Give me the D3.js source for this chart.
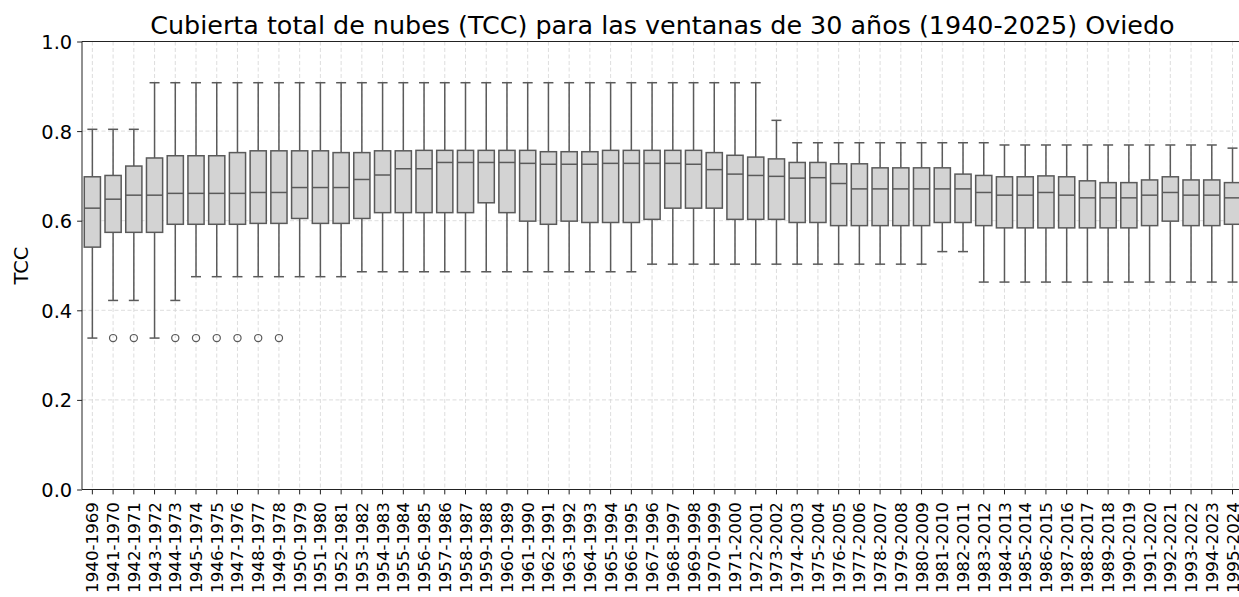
<!DOCTYPE html>
<html>
<head>
<meta charset="utf-8">
<script src="https://cdn.jsdelivr.net/npm/d3@7"></script>
<style>
  html, body { margin: 0; padding: 0; background: #fff; }
  svg { display: block; font-family: "DejaVu Sans", sans-serif; }
</style>
</head>
<body>
<svg id="chart" width="1239" height="597"></svg>
<script>
const categories = [
  "1940-1969","1941-1970","1942-1971","1943-1972","1944-1973","1945-1974","1946-1975","1947-1976",
  "1948-1977","1949-1978","1950-1979","1951-1980","1952-1981","1953-1982","1954-1983","1955-1984",
  "1956-1985","1957-1986","1958-1987","1959-1988","1960-1989","1961-1990","1962-1991","1963-1992",
  "1964-1993","1965-1994","1966-1995","1967-1996","1968-1997","1969-1998","1970-1999","1971-2000",
  "1972-2001","1973-2002","1974-2003","1975-2004","1976-2005","1977-2006","1978-2007","1979-2008",
  "1980-2009","1981-2010","1982-2011","1983-2012","1984-2013","1985-2014","1986-2015","1987-2016",
  "1988-2017","1989-2018","1990-2019","1991-2020","1992-2021","1993-2022","1994-2023","1995-2024"
];

const whiskerHigh = [
  0.804,0.804,0.804,0.908,0.908,0.908,0.908,0.908,
  0.908,0.908,0.908,0.908,0.908,0.908,0.908,0.908,
  0.908,0.908,0.908,0.908,0.908,0.908,0.908,0.908,
  0.908,0.908,0.908,0.908,0.908,0.908,0.908,0.908,
  0.908,0.824,0.774,0.774,0.774,0.774,0.774,0.774,
  0.774,0.774,0.774,0.774,0.769,0.769,0.769,0.769,
  0.769,0.769,0.769,0.769,0.769,0.769,0.769,0.762
];

const q3Values = [
  0.698,0.701,0.722,0.740,0.745,0.745,0.745,0.752,
  0.756,0.756,0.756,0.756,0.752,0.752,0.756,0.756,
  0.757,0.757,0.757,0.757,0.757,0.757,0.754,0.754,
  0.754,0.757,0.757,0.757,0.757,0.757,0.752,0.746,
  0.742,0.738,0.730,0.730,0.727,0.727,0.718,0.718,
  0.718,0.718,0.704,0.701,0.698,0.698,0.700,0.698,
  0.689,0.685,0.685,0.691,0.698,0.691,0.691,0.685
];

const medianValues = [
  0.628,0.648,0.657,0.657,0.661,0.661,0.661,0.661,
  0.663,0.663,0.674,0.674,0.674,0.692,0.702,0.716,
  0.716,0.730,0.730,0.730,0.730,0.728,0.726,0.726,
  0.726,0.728,0.728,0.728,0.728,0.726,0.714,0.704,
  0.701,0.699,0.695,0.696,0.683,0.671,0.671,0.671,
  0.671,0.671,0.671,0.663,0.657,0.657,0.663,0.657,
  0.651,0.651,0.651,0.657,0.663,0.657,0.657,0.651
];

const q1Values = [
  0.541,0.574,0.574,0.574,0.592,0.592,0.592,0.592,
  0.594,0.594,0.605,0.594,0.594,0.605,0.618,0.618,
  0.618,0.618,0.618,0.640,0.618,0.599,0.592,0.599,
  0.596,0.596,0.596,0.603,0.628,0.628,0.628,0.603,
  0.603,0.603,0.596,0.596,0.589,0.589,0.589,0.589,
  0.589,0.596,0.596,0.589,0.584,0.584,0.584,0.584,
  0.584,0.584,0.584,0.589,0.599,0.589,0.589,0.592
];

const whiskerLow = [
  0.338,0.422,0.422,0.338,0.422,0.475,0.475,0.475,
  0.475,0.475,0.475,0.475,0.475,0.486,0.486,0.486,
  0.486,0.486,0.486,0.486,0.486,0.486,0.486,0.486,
  0.486,0.486,0.486,0.503,0.503,0.503,0.503,0.503,
  0.503,0.503,0.503,0.503,0.503,0.503,0.503,0.503,
  0.503,0.531,0.531,0.463,0.463,0.463,0.463,0.463,
  0.463,0.463,0.463,0.463,0.463,0.463,0.463,0.463
];

const outlierValues = [
  [],[0.338],[0.338],[],[0.338],[0.338],[0.338],[0.338],
  [0.338],[0.338],[],[],[],[],[],[],
  [],[],[],[],[],[],[],[],
  [],[],[],[],[],[],[],[],
  [],[],[],[],[],[],[],[],
  [],[],[],[],[],[],[],[],
  [],[],[],[],[],[],[],[]
];

const yTicks = [0.0, 0.2, 0.4, 0.6, 0.8, 1.0];

const titleText = "Cubierta total de nubes (TCC) para las ventanas de 30 años (1940-2025) Oviedo";
const yLabel = "TCC";

(function () {
// layout
const mLeft = 82, mTop = 41.5, mBottom = 489.5;
const step = 20.73;
const mRight = mLeft + step * categories.length;

const svg = d3.select("#chart");

const x = d3.scaleBand().domain(categories).range([mLeft, mRight]).padding(0);
const y = d3.scaleLinear().domain([0, 1]).range([mBottom, mTop]);

const data = categories.map((c, i) => ({
  cat: c, lo: whiskerLow[i], q1: q1Values[i], med: medianValues[i],
  q3: q3Values[i], hi: whiskerHigh[i], out: outlierValues[i]
}));

// grid
const grid = svg.append("g").attr("class", "grid");
grid.selectAll("line.h").data(yTicks).enter().append("line")
  .attr("x1", mLeft).attr("x2", mRight)
  .attr("y1", d => y(d)).attr("y2", d => y(d))
  .attr("stroke", "#d4d4d4").attr("stroke-width", 0.8)
  .attr("stroke-dasharray", "4,2.5");
grid.selectAll("line.v").data(categories).enter().append("line")
  .attr("x1", d => x(d) + x.bandwidth() / 2).attr("x2", d => x(d) + x.bandwidth() / 2)
  .attr("y1", mTop).attr("y2", mBottom)
  .attr("stroke", "#d4d4d4").attr("stroke-width", 0.8)
  .attr("stroke-dasharray", "4,2.5");

// boxes
const edge = "#5a5a5a";
const boxW = step * 0.78;
const capW = 10;
const g = svg.append("g").selectAll("g.box").data(data).enter().append("g");
const cx = d => x(d.cat) + x.bandwidth() / 2;

g.append("line").attr("x1", cx).attr("x2", cx)
  .attr("y1", d => y(d.lo)).attr("y2", d => y(d.q1))
  .attr("stroke", edge).attr("stroke-width", 1.5);
g.append("line").attr("x1", cx).attr("x2", cx)
  .attr("y1", d => y(d.q3)).attr("y2", d => y(d.hi))
  .attr("stroke", edge).attr("stroke-width", 1.5);
g.append("line").attr("x1", d => cx(d) - capW / 2).attr("x2", d => cx(d) + capW / 2)
  .attr("y1", d => y(d.lo)).attr("y2", d => y(d.lo))
  .attr("stroke", edge).attr("stroke-width", 1.5);
g.append("line").attr("x1", d => cx(d) - capW / 2).attr("x2", d => cx(d) + capW / 2)
  .attr("y1", d => y(d.hi)).attr("y2", d => y(d.hi))
  .attr("stroke", edge).attr("stroke-width", 1.5);
g.append("rect")
  .attr("x", d => cx(d) - boxW / 2).attr("width", boxW)
  .attr("y", d => y(d.q3)).attr("height", d => y(d.q1) - y(d.q3))
  .attr("fill", "#d3d3d3").attr("stroke", edge).attr("stroke-width", 1.5);
g.append("line").attr("x1", d => cx(d) - boxW / 2).attr("x2", d => cx(d) + boxW / 2)
  .attr("y1", d => y(d.med)).attr("y2", d => y(d.med))
  .attr("stroke", edge).attr("stroke-width", 1.5);
g.selectAll("circle").data(d => d.out.map(v => ({ v, d }))).enter().append("circle")
  .attr("cx", o => cx(o.d)).attr("cy", o => y(o.v)).attr("r", 3.6)
  .attr("fill", "none").attr("stroke", edge).attr("stroke-width", 1.2);

// axes
const yAxis = d3.axisLeft(y).tickValues(yTicks).tickFormat(d3.format(".1f")).tickSize(4.9).tickPadding(4.9);
const yG = svg.append("g").attr("transform", `translate(${mLeft},0)`).call(yAxis);
yG.select(".domain").remove();
yG.selectAll("text").style("font-size", "19.4px").style("font-family", "DejaVu Sans").attr("fill", "#000").attr("dy", "0.36em");
yG.selectAll("line").attr("stroke", "#222");

const xAxis = d3.axisBottom(x).tickSize(4.9).tickPadding(4.9);
const xG = svg.append("g").attr("transform", `translate(0,${mBottom})`).call(xAxis);
xG.select(".domain").remove();
xG.selectAll("line").attr("stroke", "#222");
xG.selectAll("text")
  .style("font-size", "16.7px").style("font-family", "DejaVu Sans").attr("fill", "#000")
  .attr("text-anchor", "end")
  .attr("transform", "rotate(-90)")
  .attr("x", -12.5).attr("y", 0).attr("dy", "0.36em");

// spines
const spine = (x1, y1, x2, y2) => svg.append("line").attr("x1", x1).attr("y1", y1).attr("x2", x2).attr("y2", y2)
  .attr("stroke", "#222").attr("stroke-width", 1);
spine(mLeft, mTop, mLeft, mBottom);
spine(mLeft, mBottom, mRight, mBottom);
spine(mLeft, mTop, mRight, mTop);
spine(mRight, mTop, mRight, mBottom);

// title
svg.append("text").attr("x", (mLeft + mRight) / 2).attr("y", 34)
  .attr("text-anchor", "middle").style("font-size", "25.4px").attr("fill", "#000")
  .text(titleText);

// y label
svg.append("text").attr("transform", `translate(28,${(mTop + mBottom) / 2}) rotate(-90)`)
  .attr("text-anchor", "middle").style("font-size", "19.4px").attr("fill", "#000")
  .text(yLabel);
})();
</script>
</body>
</html>
